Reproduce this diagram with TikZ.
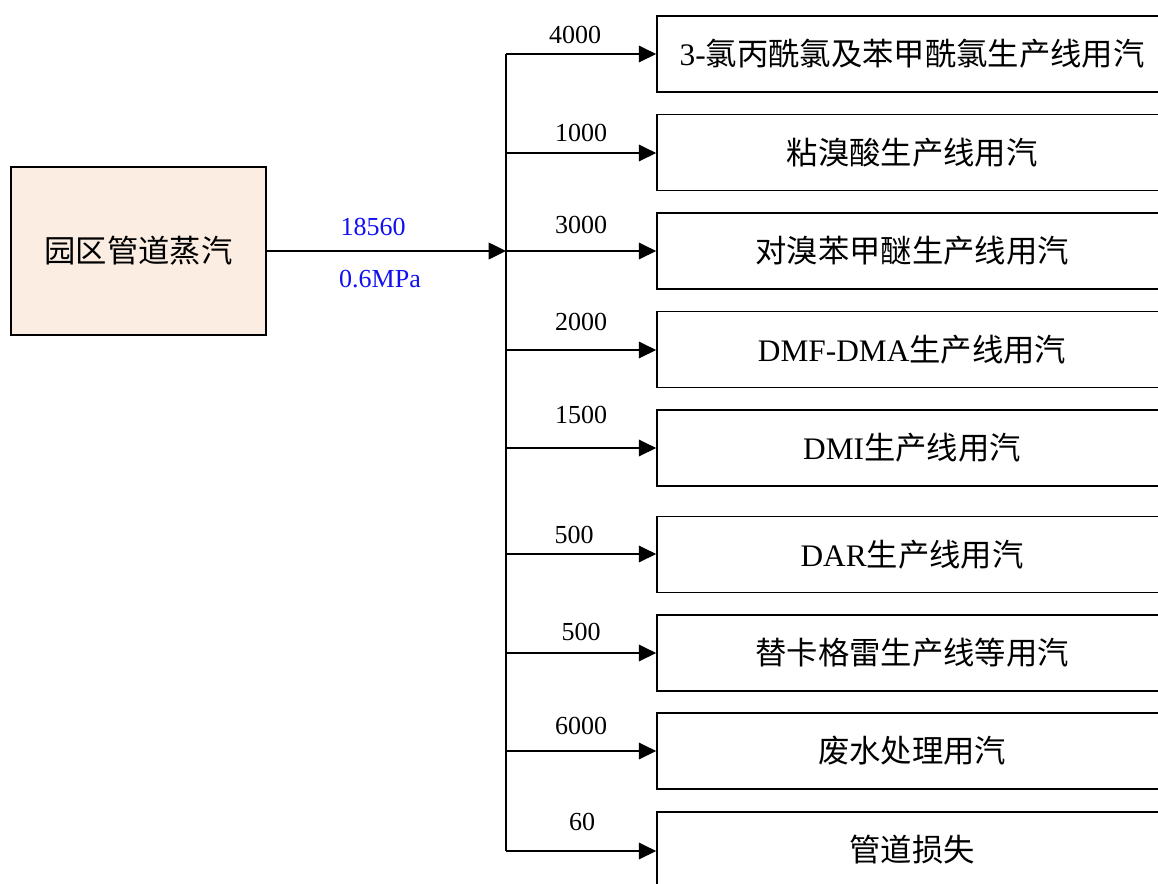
\documentclass[tikz,border=0pt]{standalone}
\usepackage{fontspec}
\setmainfont{Liberation Serif}
\newfontfamily\cjk{Noto Sans CJK SC}
\usetikzlibrary{arrows.meta}
\definecolor{srcfill}{HTML}{FBEDE2}
\definecolor{lblblue}{HTML}{1010F0}
\tikzset{
  sinkbox/.style={draw=black, line width=1.3pt, fill=white, minimum width=382.5pt, minimum height=57pt, inner sep=0pt,
    font=\fontsize{23.5}{28}\selectfont},
  srcbox/.style={draw=black, line width=1.3pt, fill=srcfill, minimum width=191.25pt, minimum height=126pt, inner sep=0pt,
    font=\fontsize{23.5}{28}\selectfont},
  flow/.style={line width=1.1pt, -{Triangle[length=13pt,width=12.5pt]}},
  bus/.style={line width=1.1pt},
  num/.style={anchor=base, inner sep=0pt, font=\fontsize{19.5}{22}\selectfont},
  bluenum/.style={num, text=lblblue}
}
\begin{document}
\begin{tikzpicture}[x=0.75pt,y=-0.75pt]
\clip (0,0) rectangle (1158,883);
\fill[white] (0,0) rectangle (1158,883);

\node[srcbox] (src) at (138.5,251) {\cjk 园区管道蒸汽};
\coordinate (J) at (506,251);
\coordinate (top) at (506,54);
\coordinate (bot) at (506,851);
\draw[bus] (top) -- (bot);
\draw[flow] (src.east) -- (J);
\node[bluenum] (q) at (373,235) {18560};
\node[bluenum] (p) at (380,287) {0.6MPa};

\node[sinkbox] (b1) at (912,54) {3-{\cjk 氯丙酰氯及苯甲酰氯生产线用汽}};
\node[sinkbox] (b2) at (912,152.5) {\cjk 粘溴酸生产线用汽};
\node[sinkbox] (b3) at (912,251) {\cjk 对溴苯甲醚生产线用汽};
\node[sinkbox] (b4) at (912,349.5) {DMF-DMA{\cjk 生产线用汽}};
\node[sinkbox] (b5) at (912,448) {DMI{\cjk 生产线用汽}};
\node[sinkbox] (b6) at (912,554.5) {DAR{\cjk 生产线用汽}};
\node[sinkbox] (b7) at (912,653) {\cjk 替卡格雷生产线等用汽};
\node[sinkbox] (b8) at (912,751) {\cjk 废水处理用汽};
\node[sinkbox] (b9) at (912,850) {\cjk 管道损失};

\foreach \b/\y in {b1/54,b2/153,b3/251,b4/350,b5/448,b6/554,b7/653,b8/751,b9/851}{
  \coordinate (k\b) at (506,\y);
  \draw[flow] (k\b) -- (\b.west |- k\b);
}

\node[num] (n1) at (575,43) {4000};
\node[num] (n2) at (581,141) {1000};
\node[num] (n3) at (581,233) {3000};
\node[num] (n4) at (581,330) {2000};
\node[num] (n5) at (581,423) {1500};
\node[num] (n6) at (574,543) {500};
\node[num] (n7) at (581,640) {500};
\node[num] (n8) at (581,734) {6000};
\node[num] (n9) at (582,830) {60};
\end{tikzpicture}
\end{document}
